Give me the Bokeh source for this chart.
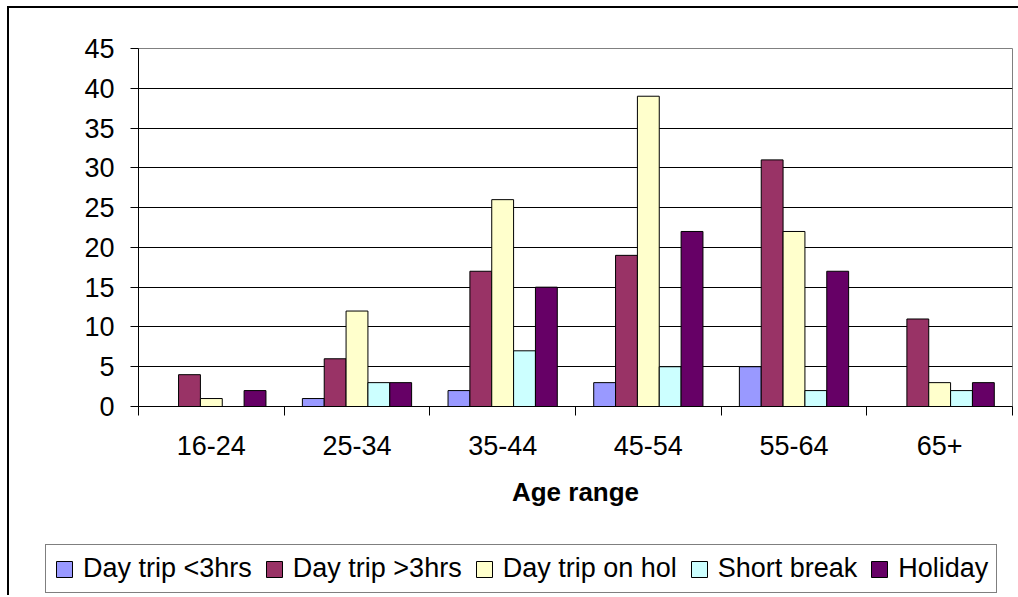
from bokeh.plotting import figure
from bokeh.layouts import column
from bokeh.models import (FactorRange, Range1d, FixedTicker, LinearAxis,
                          CategoricalAxis, Legend, LegendItem, ColumnDataSource)
from bokeh.transform import dodge
from bokeh.embed import file_html
from bokeh.resources import INLINE

# ---- data ----
ages = ["16-24", "25-34", "35-44", "45-54", "55-64", "65+"]
series_names = ["Day trip <3hrs", "Day trip >3hrs", "Day trip on hol", "Short break", "Holiday"]
day_trip_lt3 = [0, 1, 2, 3, 5, 0]
day_trip_gt3 = [4, 6, 17, 19, 31, 11]
day_trip_on_hol = [1, 12, 26, 39, 22, 3]
short_break = [0, 3, 7, 5, 2, 2]
holiday = [2, 3, 15, 22, 17, 3]
y_ticks = [0, 5, 10, 15, 20, 25, 30, 35, 40, 45]
x_title = "Age range"

colors = ["#9999FF", "#993366", "#FFFFCC", "#CCFFFF", "#660066"]

FONT = "Liberation Sans"
FS = "27px"

source = ColumnDataSource(dict(age=ages, s0=day_trip_lt3, s1=day_trip_gt3,
                               s2=day_trip_on_hol, s3=short_break, s4=holiday))

W = 1009
p = figure(x_range=FactorRange(*ages, range_padding=0, factor_padding=0),
           y_range=Range1d(0, max(y_ticks)),
           width=W, height=532, output_backend="svg", toolbar_location=None,
           x_axis_location=None, frame_align=False,
           min_border_left=129, min_border_right=6, min_border_top=40, min_border_bottom=134)
p.background_fill_color = "white"
p.border_fill_color = "white"
p.outline_line_color = "#808080"
p.outline_line_width = 1

# y axis
yax = p.yaxis[0]
yax.ticker = FixedTicker(ticks=y_ticks)
yax.major_tick_in = 0
yax.major_tick_out = 8
yax.minor_tick_line_color = None
yax.axis_line_color = "black"
yax.major_tick_line_color = "black"
yax.major_label_text_font = FONT
yax.major_label_text_font_size = FS
yax.major_label_text_color = "black"
yax.major_label_standoff = 16

p.xgrid.visible = False
p.ygrid.ticker = FixedTicker(ticks=y_ticks[1:-1])
p.ygrid.grid_line_color = "black"
p.ygrid.grid_line_width = 1

# category-boundary ticks (synthetic coordinates of the factor range)
n = len(ages)
tick_axis = LinearAxis(ticker=FixedTicker(ticks=list(range(n + 1))),
                       major_tick_in=0, major_tick_out=9, axis_line_color="black",
                       major_tick_line_color="black", minor_tick_line_color=None,
                       major_label_text_font_size="0px", major_label_standoff=0,
                       major_label_overrides={i: "" for i in range(n + 1)})
p.add_layout(tick_axis, "below")

cat_axis = CategoricalAxis(axis_line_color=None, major_tick_line_color=None,
                           major_tick_out=0, major_tick_in=0,
                           major_label_text_font=FONT, major_label_text_font_size=FS,
                           major_label_text_color="black", major_label_standoff=20,
                           axis_label=x_title, axis_label_text_font=FONT,
                           axis_label_text_font_size="26px", axis_label_text_font_style="bold",
                           axis_label_text_color="black", axis_label_standoff=19)
p.add_layout(cat_axis, "below")

# bars
bar_w = 0.15
for i, col in enumerate(colors):
    p.vbar(x=dodge("age", (i - 2) * bar_w, range=p.x_range), top="s%d" % i,
           width=bar_w, source=source, fill_color=col, line_color="black", line_width=1)

# legend strip (separate canvas so the legend is not clipped by the plot frame)
pl = figure(x_range=FactorRange(*ages), y_range=Range1d(0, 1),
            width=W, height=55, output_backend="svg", toolbar_location=None,
            x_axis_location=None, y_axis_location=None, frame_align=False,
            min_border_left=0, min_border_right=0, min_border_top=0, min_border_bottom=0)
pl.outline_line_color = None
pl.xgrid.visible = False
pl.ygrid.visible = False
items = []
for i, (name, col) in enumerate(zip(series_names, colors)):
    r = pl.vbar(x="age", top="s%d" % i, width=bar_w, source=source,
                fill_color=col, line_color="black", line_width=1, visible=False)
    items.append(LegendItem(label=name, renderers=[r]))

legend = Legend(items=items, orientation="horizontal", location=(36, 2),
                label_text_font=FONT, label_text_font_size=FS, label_text_color="black",
                glyph_width=20, glyph_height=20, label_standoff=9, spacing=12,
                padding=8, margin=0, border_line_color="black", border_line_width=1,
                background_fill_color="white", background_fill_alpha=1,
                inactive_fill_alpha=0)
pl.add_layout(legend, "center")

layout = column(p, pl, spacing=0, margin=(6, 0, 0, 7),
                styles={"border-left": "2px solid black", "border-top": "2px solid black"})

open("out.html", "w").write(file_html(layout, INLINE))
